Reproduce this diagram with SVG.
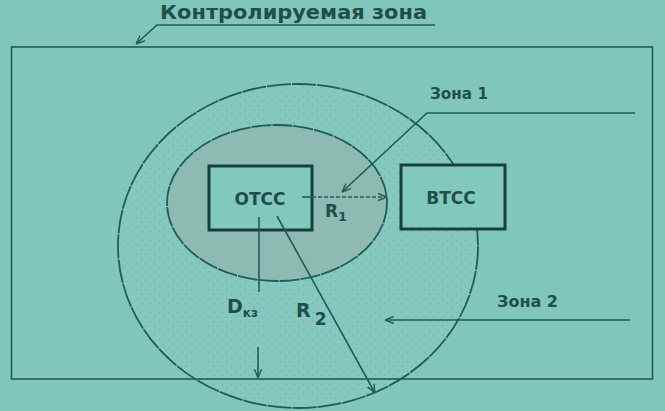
<svg xmlns="http://www.w3.org/2000/svg" width="665" height="411" viewBox="0 0 665 411">
  <style>
    .ln { stroke: #1e5d57; fill: none; stroke-width: 1.6; }
    .zone { stroke: #1e5d57; stroke-width: 1.8; }
    .box { stroke: #17403d; stroke-width: 3; fill: #82c8bb; }
    .lbl { font-family: "DejaVu Sans", "Liberation Sans", sans-serif; font-weight: bold; fill: #1f4f4b; }
  </style>
  <defs>
    <pattern id="dots" width="9" height="9" patternUnits="userSpaceOnUse">
      <circle cx="2" cy="2" r="0.8" fill="#71b1a8"/>
      <circle cx="6.5" cy="6.5" r="0.8" fill="#71b1a8"/>
    </pattern>
    <marker id="arr" viewBox="0 0 10 10" refX="10" refY="5" markerWidth="9" markerHeight="9" orient="auto" markerUnits="userSpaceOnUse">
      <path d="M0,1 L10,5 L0,9" fill="none" stroke="#1e5d57" stroke-width="1.5"/>
    </marker>
  </defs>
  <rect width="665" height="411" fill="#80c7b9"/>

  <g id="title">
    <text class="lbl" x="160" y="19" font-size="20" textLength="267" lengthAdjust="spacingAndGlyphs">Контролируемая зона</text>
  </g>

  <g id="zone2">
    <ellipse cx="298" cy="246" rx="180" ry="162" fill="#85c8bd"/>
    <ellipse cx="298" cy="246" rx="180" ry="162" fill="url(#dots)"/>
    <ellipse cx="298" cy="246" rx="180" ry="162" class="zone" fill="none" stroke-dasharray="24 1"/>
  </g>

  <g id="zone1">
    <ellipse cx="277" cy="203" rx="110" ry="78" fill="#8dbab1" class="zone" stroke-dasharray="20 1"/>
  </g>

  <g id="controlled-zone">
    <rect x="11.5" y="47" width="641" height="332" class="ln" stroke-width="2"/>
  </g>

  <g id="otss">
    <rect x="209" y="166" width="103" height="64" class="box"/>
    <text class="lbl" x="260" y="205" font-size="17" text-anchor="middle">ОТСС</text>
  </g>

  <g id="vtss">
    <rect x="401" y="165" width="104" height="64" class="box"/>
    <text class="lbl" x="451" y="204" font-size="17" text-anchor="middle">ВТСС</text>
  </g>

  <g id="connectors">
    <!-- title leader -->
    <polyline points="435,25 157,25 136,44" class="ln" stroke-width="2.2" marker-end="url(#arr)"/>
    <!-- R1 -->
    <line x1="302" y1="197" x2="312" y2="197" class="ln"/>
    <line x1="312" y1="197" x2="387" y2="197" class="ln" stroke-dasharray="4 2" marker-end="url(#arr)"/>
    <!-- Zona 1 leader -->
    <polyline points="635,113 427,113 342,192" class="ln" marker-end="url(#arr)"/>
    <!-- Zona 2 leader -->
    <line x1="630" y1="320" x2="385" y2="320" class="ln" marker-end="url(#arr)"/>
    <!-- D kz -->
    <line x1="259" y1="217" x2="259" y2="292" class="ln"/>
    <line x1="258" y1="347" x2="258" y2="378" class="ln" marker-end="url(#arr)"/>
    <!-- R2 -->
    <line x1="277" y1="216" x2="375" y2="393" class="ln" marker-end="url(#arr)"/>
  </g>

  <g id="labels">
    <text class="lbl" x="430" y="99" font-size="16" textLength="58" lengthAdjust="spacingAndGlyphs">Зона 1</text>
    <text class="lbl" x="497" y="307" font-size="16" textLength="61" lengthAdjust="spacingAndGlyphs">Зона 2</text>
    <text class="lbl" x="325" y="217" font-size="17">R<tspan font-size="13" dy="4">1</tspan></text>
    <text class="lbl" x="227" y="313" font-size="19">D<tspan font-size="12" dy="4">кз</tspan></text>
    <text class="lbl" x="296" y="317" font-size="19">R<tspan font-size="17" dx="4" dy="8">2</tspan></text>
  </g>
</svg>
